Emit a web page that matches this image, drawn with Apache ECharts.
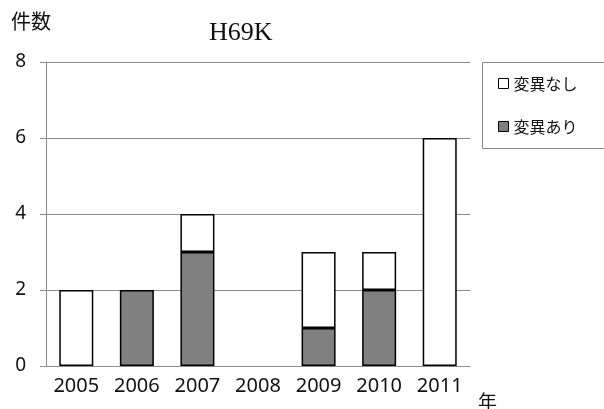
<!DOCTYPE html>
<html>
<head>
<meta charset="utf-8">
<style>
  html, body { margin: 0; padding: 0; background: #fff; }
  #chart { width: 604px; height: 409px; }
</style>
<script src="https://cdn.jsdelivr.net/npm/echarts@6/dist/echarts.min.js"></script>
</head>
<body>
<div id="chart"></div>
<script>
// Yearly counts of H69K cases, split by mutation status
const years = ['2005', '2006', '2007', '2008', '2009', '2010', '2011'];
const withMutation = [0, 2, 3, 0, 1, 2, 0];     // 変異あり
const withoutMutation = [2, 0, 1, 0, 2, 1, 6];  // 変異なし
const yTicks = [0, 2, 4, 6, 8];

const gridColor = '#8c8c8c';
const numFont = '"Noto Sans", "DejaVu Sans", sans-serif';
const jpFont = '"Noto Sans CJK JP", sans-serif';

// empty segments are skipped so no outline is drawn at zero height
const toBarData = (arr) => arr.map(v => (v === 0 ? '-' : v));

const chart = echarts.init(document.getElementById('chart'), null, { renderer: 'canvas' });

chart.setOption({
  animation: false,
  backgroundColor: '#ffffff',
  title: {
    text: 'H69K',
    left: 209,
    top: 20,
    padding: 0,
    textStyle: { fontFamily: '"Liberation Serif", "DejaVu Serif", serif', fontSize: 26, fontWeight: 'normal', color: '#111' }
  },
  grid: { left: 46, right: 134, top: 62, bottom: 43, containLabel: false },
  legend: {
    orient: 'vertical',
    left: 498,
    top: 72,
    padding: 0,
    itemWidth: 10,
    itemHeight: 10,
    itemGap: 20,
    icon: 'rect',
    data: ['変異なし', '変異あり'],
    itemStyle: { borderColor: '#000', borderWidth: 1 },
    textStyle: { fontFamily: jpFont, fontSize: 16, color: '#111', lineHeight: 23 }
  },
  xAxis: {
    type: 'category',
    data: years,
    axisLine: { show: true, lineStyle: { color: gridColor, width: 1 } },
    axisTick: { show: false },
    axisLabel: { margin: 10, fontFamily: numFont, fontSize: 20, color: '#111' }
  },
  yAxis: {
    type: 'value',
    min: yTicks[0],
    max: yTicks[yTicks.length - 1],
    interval: 2,
    axisLine: { show: true, lineStyle: { color: gridColor, width: 1 } },
    axisTick: { show: true, inside: false, length: 6, lineStyle: { color: gridColor } },
    splitLine: { show: true, lineStyle: { color: gridColor, width: 1 } },
    axisLabel: { margin: 20, fontFamily: numFont, fontSize: 19, color: '#111' }
  },
  series: [
    {
      name: '変異あり',
      type: 'bar',
      stack: 'total',
      barWidth: 34,
      data: toBarData(withMutation),
      itemStyle: { color: '#808080', borderColor: '#000', borderWidth: 1.5 }
    },
    {
      name: '変異なし',
      type: 'bar',
      stack: 'total',
      barWidth: 34,
      data: toBarData(withoutMutation),
      itemStyle: { color: '#ffffff', borderColor: '#000', borderWidth: 1.5 }
    }
  ],
  graphic: [
    {
      type: 'rect',
      shape: { x: 482.5, y: 62.5, width: 140, height: 86 },
      style: { fill: 'none', stroke: '#888', lineWidth: 1 },
      silent: true
    },
    {
      type: 'text',
      left: 11,
      top: 11,
      style: { text: '件数', font: '20px "Noto Sans CJK JP", sans-serif', fill: '#111' }
    },
    {
      type: 'text',
      left: 478,
      top: 392,
      style: { text: '年', font: '19px "Noto Sans CJK JP", sans-serif', fill: '#111' }
    }
  ]
});
</script>
</body>
</html>
